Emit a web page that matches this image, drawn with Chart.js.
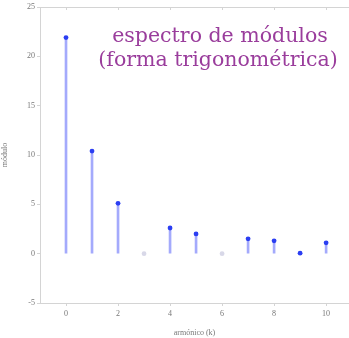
<!DOCTYPE html>
<html>
<head>
<meta charset="utf-8">
<script src="https://cdn.jsdelivr.net/npm/chart.js@4"></script>
<style>
  html, body { margin: 0; padding: 0; background: #fff; overflow: hidden; }
  #wrap { width: 349px; height: 338px; }
</style>
</head>
<body>
<div id="wrap"><canvas id="spec"></canvas></div>
<script>
// harmonic index and magnitude
const harmonics = [0, 1, 2, 3, 4, 5, 6, 7, 8, 9, 10];
const magnitudes = [21.9, 10.4, 5.1, 0, 2.6, 2.0, 0, 1.5, 1.3, 0.05, 1.1];
const xTicks = [0, 2, 4, 6, 8, 10];
const yTicks = [-5, 0, 5, 10, 15, 20, 25];
const titleLines = ['espectro de módulos', '(forma trigonométrica)'];

const points = harmonics.map((k, i) => ({ x: k, y: magnitudes[i] }));

// top border + title text inside the plot
const extras = {
  id: 'extras',
  afterDraw(chart) {
    const { ctx, chartArea } = chart;
    ctx.save();
    ctx.strokeStyle = '#d4d4d4';
    ctx.lineWidth = 1;
    ctx.beginPath();
    ctx.moveTo(chartArea.left, chartArea.top + 0.5);
    ctx.lineTo(chartArea.right, chartArea.top + 0.5);
    ctx.stroke();
    // small tick marks along the top edge
    xTicks.forEach(v => {
      const px = Math.round(chart.scales.x.getPixelForValue(v)) + 0.5;
      ctx.beginPath();
      ctx.moveTo(px, chartArea.top);
      ctx.lineTo(px, chartArea.top + 3);
      ctx.stroke();
    });

    ctx.fillStyle = '#9a3d9c';
    ctx.font = '20.5px "DejaVu Serif", serif';
    ctx.textAlign = 'center';
    ctx.fillText(titleLines[0], 220, 42);
    ctx.fillText(titleLines[1], 218, 66);
    ctx.restore();
  }
};

new Chart(document.getElementById('spec'), {
  type: 'bar',
  data: {
    datasets: [
      {
        type: 'line',
        data: points,
        showLine: false,
        pointRadius: 2.4,
        pointBackgroundColor: c => (c.raw && c.raw.y === 0 ? '#d8d8e8' : '#2b3ef2'),
        pointBorderWidth: 0,
        clip: false,
        order: 0
      },
      {
        type: 'bar',
        data: points,
        backgroundColor: 'rgba(90,100,250,0.55)',
        barThickness: 2,
        order: 1
      }
    ]
  },
  plugins: [extras],
  options: {
    responsive: true,
    maintainAspectRatio: false,
    animation: false,
    layout: { autoPadding: false, padding: { top: 7, right: 0, left: 0, bottom: 0 } },
    plugins: {
      legend: { display: false },
      tooltip: { enabled: false }
    },
    scales: {
      x: {
        type: 'linear',
        offset: false,
        min: -1,
        max: 10.88,
        afterBuildTicks: axis => { axis.ticks = xTicks.map(v => ({ value: v })); },
        afterFit: axis => { axis.height = 35; },
        grid: { offset: false, drawOnChartArea: false, tickLength: 3, color: '#d4d4d4' },
        border: { color: '#d4d4d4' },
        ticks: { color: '#777', font: { family: 'Liberation Serif', size: 8 }, padding: 3, maxRotation: 0 },
        title: {
          display: true,
          text: 'armónico (k)',
          color: '#777',
          font: { family: 'Liberation Serif', size: 8 },
          padding: { top: 2, bottom: 0 }
        }
      },
      y: {
        type: 'linear',
        min: -5,
        max: 25,
        afterBuildTicks: axis => { axis.ticks = yTicks.map(v => ({ value: v })); },
        afterFit: axis => { axis.width = 40; },
        grid: { drawOnChartArea: false, tickLength: 3, color: '#d4d4d4' },
        border: { color: '#d4d4d4' },
        ticks: { color: '#777', font: { family: 'Liberation Serif', size: 8 }, padding: 2 },
        title: {
          display: true,
          text: 'módulo',
          color: '#777',
          font: { family: 'Liberation Serif', size: 8 },
          padding: { top: 0, bottom: 4 }
        }
      }
    }
  }
});
</script>
</body>
</html>
